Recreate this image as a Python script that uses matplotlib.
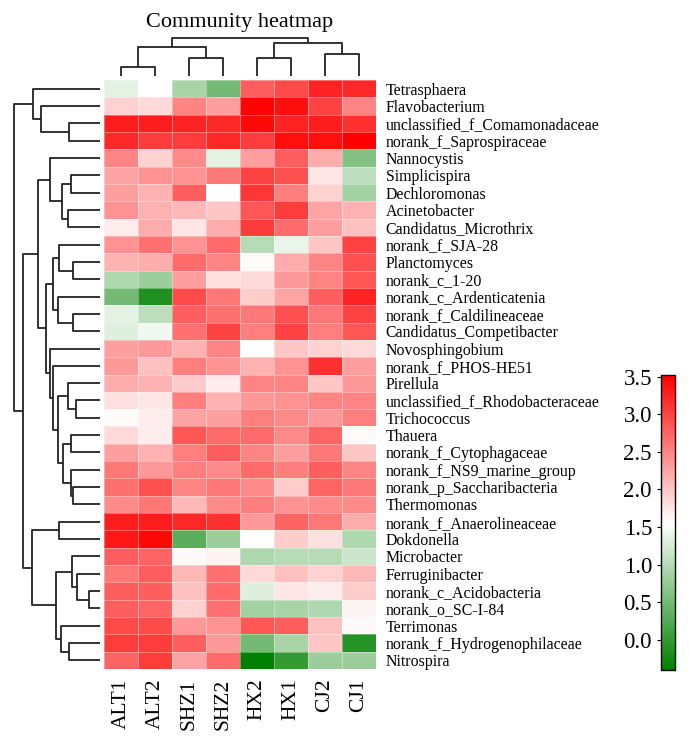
import numpy as np
import matplotlib
matplotlib.use("Agg")
import matplotlib.pyplot as plt
from matplotlib.colors import LinearSegmentedColormap

plt.rcParams['font.family'] = ['Liberation Serif', 'DejaVu Serif']

samples = ['ALT1', 'ALT2', 'SHZ1', 'SHZ2', 'HX2', 'HX1', 'CJ2', 'CJ1']

genera = ['Tetrasphaera', 'Flavobacterium', 'unclassified_f_Comamonadaceae',
          'norank_f_Saprospiraceae', 'Nannocystis', 'Simplicispira', 'Dechloromonas',
          'Acinetobacter', 'Candidatus_Microthrix', 'norank_f_SJA-28', 'Planctomyces',
          'norank_c_1-20', 'norank_c_Ardenticatenia', 'norank_f_Caldilineaceae',
          'Candidatus_Competibacter', 'Novosphingobium', 'norank_f_PHOS-HE51', 'Pirellula',
          'unclassified_f_Rhodobacteraceae', 'Trichococcus', 'Thauera',
          'norank_f_Cytophagaceae', 'norank_f_NS9_marine_group', 'norank_p_Saccharibacteria',
          'Thermomonas', 'norank_f_Anaerolineaceae', 'Dokdonella', 'Microbacter',
          'Ferruginibacter', 'norank_c_Acidobacteria', 'norank_o_SC-I-84', 'Terrimonas',
          'norank_f_Hydrogenophilaceae', 'Nitrospira']

# log abundance, rows in display order, columns in samples order
values = np.array([
    [1.35, 1.55, 0.90, 0.50, 2.80, 2.95, 3.25, 3.20],
    [1.90, 1.85, 2.50, 2.30, 3.50, 3.40, 3.00, 2.50],
    [3.30, 3.30, 3.25, 3.20, 3.45, 3.25, 3.30, 3.15],
    [3.20, 3.05, 3.05, 3.20, 3.05, 3.40, 3.40, 3.52],
    [2.50, 1.90, 2.45, 1.35, 2.30, 2.80, 2.20, 0.60],
    [2.25, 2.40, 2.40, 2.60, 3.00, 2.90, 1.75, 1.05],
    [2.30, 2.15, 2.80, 1.56, 3.10, 2.55, 1.90, 0.85],
    [2.40, 2.15, 2.10, 2.00, 2.85, 3.05, 2.25, 2.15],
    [1.70, 2.20, 1.75, 2.20, 3.05, 2.70, 2.30, 2.05],
    [2.40, 2.65, 2.40, 2.70, 1.00, 1.40, 2.00, 3.00],
    [2.15, 2.20, 2.70, 2.50, 1.60, 2.20, 2.50, 2.90],
    [0.95, 0.80, 2.30, 1.80, 1.85, 2.35, 2.50, 2.85],
    [0.50, -0.15, 2.95, 2.60, 1.95, 2.25, 2.80, 3.25],
    [1.35, 1.05, 2.80, 2.65, 2.60, 2.90, 2.60, 3.00],
    [1.30, 1.45, 2.65, 3.00, 2.55, 3.00, 2.55, 2.85],
    [2.30, 2.35, 2.15, 2.50, 1.56, 2.00, 1.90, 1.85],
    [2.35, 2.05, 2.55, 2.40, 2.15, 2.40, 3.15, 2.30],
    [2.20, 2.15, 1.95, 1.70, 2.50, 2.50, 2.00, 2.35],
    [1.80, 1.75, 2.55, 2.15, 2.35, 2.40, 2.50, 2.50],
    [1.60, 1.70, 2.25, 2.30, 2.55, 2.45, 2.35, 2.55],
    [1.85, 1.70, 2.85, 2.70, 2.70, 2.45, 2.75, 1.60],
    [2.30, 2.15, 2.55, 2.80, 2.50, 2.30, 2.60, 2.00],
    [2.60, 2.35, 2.55, 2.45, 2.70, 2.55, 2.80, 2.50],
    [2.65, 2.90, 2.50, 2.60, 2.45, 1.95, 2.75, 2.60],
    [2.45, 2.60, 2.10, 2.45, 2.55, 2.40, 2.45, 2.45],
    [3.30, 3.30, 3.20, 3.15, 2.35, 2.75, 2.60, 2.20],
    [3.35, 3.45, 0.30, 0.80, 1.56, 1.95, 1.80, 0.95],
    [2.80, 2.75, 1.60, 1.65, 0.95, 1.00, 1.00, 1.15],
    [2.60, 2.80, 2.10, 2.65, 1.85, 2.05, 1.90, 2.10],
    [2.80, 2.80, 2.05, 2.70, 1.30, 1.75, 1.70, 1.95],
    [2.80, 2.75, 1.90, 2.65, 0.85, 0.90, 0.95, 1.65],
    [2.95, 2.95, 2.35, 2.40, 2.85, 2.80, 2.05, 1.60],
    [3.05, 3.05, 2.80, 2.35, 0.50, 0.90, 2.00, -0.10],
    [2.75, 3.05, 2.25, 2.70, -0.40, 0.00, 0.80, 0.80],
])

# merges (child a, child b, height); leaves are 0..n-1, new clusters follow
row_links = [
    (2, 3, 31), (1, 34, 59), (0, 35, 66.7),
    (5, 6, 29.3), (7, 8, 32.3), (37, 38, 37.7), (4, 39, 50),
    (10, 11, 27), (9, 41, 40.7), (13, 14, 26.7), (12, 43, 42), (42, 44, 46.7),
    (18, 19, 24.3), (17, 46, 31.7), (20, 21, 29), (23, 24, 27.3), (22, 49, 29.3),
    (48, 50, 37.3), (47, 51, 42.3), (16, 52, 46.7), (15, 53, 50), (45, 54, 54),
    (40, 55, 61.7),
    (25, 26, 40.7), (29, 30, 10.7), (28, 58, 22.7), (27, 59, 28.3),
    (32, 33, 30.7), (31, 61, 39), (60, 62, 44), (57, 63, 68.3),
    (56, 64, 77.3), (36, 65, 86),
]
col_links = [(0, 1, 9.3), (2, 3, 17.7), (4, 5, 17.7), (6, 7, 22),
             (8, 9, 29.3), (10, 11, 33.3), (12, 13, 38.3)]


def dendro(ax, n, links, left=False):
    pos = {i: i + 0.5 for i in range(n)}
    hgt = {i: 0.0 for i in range(n)}
    for k, (a, b, h) in enumerate(links):
        xs = [hgt[a], h, h, hgt[b]]
        ys = [pos[a], pos[a], pos[b], pos[b]]
        if left:
            ax.plot(xs, ys, color='#222222', lw=1.3, solid_capstyle='butt')
        else:
            ax.plot(ys, xs, color='#222222', lw=1.3, solid_capstyle='butt')
        pos[n + k] = (pos[a] + pos[b]) / 2
        hgt[n + k] = h
    ax.axis('off')


W, H = 689, 742
fig = plt.figure(figsize=(W / 100, H / 100), dpi=100)

hx0, hx1, hy0, hy1 = 104, 376, 80, 669
ax = fig.add_axes([hx0 / W, 1 - hy1 / H, (hx1 - hx0) / W, (hy1 - hy0) / H])
cmap = LinearSegmentedColormap.from_list('gwr', ['#008000', '#ffffff', '#ff0000'])
mesh = ax.pcolormesh(values, cmap=cmap, vmin=-0.4, vmax=3.52,
                     edgecolors=(1, 1, 1, 0.35), linewidth=0.5)
ax.set_xlim(0, len(samples))
ax.set_ylim(len(genera), 0)
ax.set_xticks(np.arange(len(samples)) + 0.5)
ax.set_xticklabels(samples, rotation=90, fontsize=15.5)
ax.set_yticks(np.arange(len(genera)) + 0.5)
ax.set_yticklabels(genera, fontsize=11.4)
ax.yaxis.tick_right()
ax.tick_params(axis='y', length=0, pad=7)
ax.tick_params(axis='x', length=0, pad=7)
for s in ax.spines.values():
    s.set_visible(False)

# row dendrogram
axr = fig.add_axes([0, 1 - hy1 / H, hx0 / W, (hy1 - hy0) / H])
dendro(axr, len(genera), row_links, left=True)
axr.set_xlim(100, -4)
axr.set_ylim(len(genera), 0)

# column dendrogram
axc = fig.add_axes([hx0 / W, 1 - hy0 / H, (hx1 - hx0) / W, 50 / H])
dendro(axc, len(samples), col_links)
axc.set_xlim(0, len(samples))
axc.set_ylim(-4, 46)

fig.text(240 / W, 1 - 22 / H, 'Community heatmap', fontsize=16,
         ha='center', va='center')

cax = fig.add_axes([661 / W, 1 - 670 / H, 14 / W, 295 / H])
cb = fig.colorbar(mesh, cax=cax)
cb.set_ticks([0.0, 0.5, 1.0, 1.5, 2.0, 2.5, 3.0, 3.5])
cb.ax.yaxis.set_ticks_position('left')
cb.ax.tick_params(labelsize=16.5, length=3, width=0.8)
cb.outline.set_linewidth(1.0)

fig.savefig('out.png', dpi=100)
